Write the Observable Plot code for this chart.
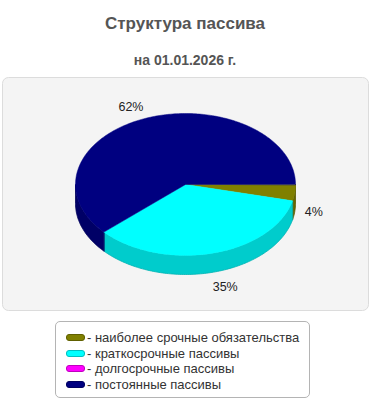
<!DOCTYPE html>
<html><head><meta charset="utf-8">
<script src="https://cdn.jsdelivr.net/npm/d3@7"></script>
<script src="https://cdn.jsdelivr.net/npm/@observablehq/plot@0.6"></script>
<style>
body{margin:0;background:#fff;font-family:"Liberation Sans",Arial,sans-serif;}
#root{position:relative;width:370px;height:400px;overflow:hidden;}
.title{position:absolute;left:0;width:370px;text-align:center;font-weight:bold;color:#555;line-height:1;white-space:nowrap;}
#chart{position:absolute;left:0;top:75px;}
#legend{position:absolute;left:55px;top:321px;width:253px;height:75px;border:1px solid #b4b4b4;border-radius:5px;background:#fff;}
.row{position:absolute;left:10px;height:15px;font-size:13px;color:#333;line-height:15px;white-space:nowrap;}
.sw{display:inline-block;box-sizing:border-box;width:19px;height:7px;border-radius:3px;vertical-align:middle;margin-right:2px;position:relative;top:-1px;}
</style></head>
<body>
<div id="root">
  <div class="title" style="top:15px;font-size:17px;">Структура пассива</div>
  <div class="title" style="top:52.5px;font-size:14px;">на 01.01.2026 г.</div>
  <div id="chart"></div>
  <div id="legend"></div>
</div>
<script>
const categories = ["наиболее срочные обязательства", "краткосрочные пассивы", "долгосрочные пассивы", "постоянные пассивы"];
const values = [3.7, 34.6, 0, 61.7];
const colors = ["#808000", "#00ffff", "#ff00ff", "#000080"];

// layout
const cx = 185, cy = 109, rx = 110, ry = 71, depth = 19;

const total = d3.sum(values);
let acc = 0;
const slices = categories.map((c, i) => {
  const a0 = acc / total * 2 * Math.PI;
  acc += values[i];
  const a1 = acc / total * 2 * Math.PI;
  return {c, v: values[i], color: colors[i], a0, a1, i};
}).filter(s => s.v > 0);

function darker(col, k) {
  const c = d3.rgb(col);
  return d3.rgb(c.r * k, c.g * k, c.b * k).formatHex();
}
function arcPts(a0, a1, off) {
  const n = Math.max(2, Math.ceil((a1 - a0) / (Math.PI / 180)));
  return d3.range(n + 1).map(k => {
    const a = a0 + (a1 - a0) * k / n;
    return [cx + rx * Math.cos(a), cy + ry * Math.sin(a) + off];
  });
}

const sideRows = [], topRows = [], labels = [];
slices.forEach(s => {
  const s0 = Math.max(s.a0, 0), s1 = Math.min(s.a1, Math.PI);
  if (s1 > s0) {
    const pts = arcPts(s0, s1, 0).concat(arcPts(s0, s1, depth).reverse());
    pts.forEach(p => sideRows.push({id: "side" + s.i, x: p[0], y: p[1], fill: darker(s.color, 0.8), stroke: darker(s.color, 0.7)}));
  }
  const tp = [[cx, cy]].concat(arcPts(s.a0, s.a1, 0));
  tp.forEach(p => topRows.push({id: "top" + s.i, x: p[0], y: p[1], fill: s.color}));
  const m = (s.a0 + s.a1) / 2;
  const c = Math.cos(m), sn = Math.sin(m);
  const px = cx + rx * c, py = cy + ry * sn + (sn > 0 ? depth : 0);
  const vx = c, vy = 0.3 * sn, L = Math.hypot(vx, vy);
  labels.push({x: px + 19 * vx / L, y: py + 19 * vy / L, text: Math.round(s.v / total * 100) + "%"});
});

const chart = Plot.plot({
  width: 370, height: 237, margin: 0,
  x: {domain: [0, 370], range: [0, 370], axis: null},
  y: {domain: [0, 237], range: [0, 237], axis: null},
  color: {type: "identity"},
  style: {background: "transparent", overflow: "visible"},
  marks: [
    Plot.frame({fill: "#f4f4f4", stroke: "#dcdcdc", rx: 6, inset: 2}),
    Plot.line(sideRows, {x: "x", y: "y", z: "id", fill: "fill", stroke: "stroke", strokeWidth: 0.8, curve: "linear-closed"}),
    Plot.line(topRows, {x: "x", y: "y", z: "id", fill: "fill", stroke: "fill", strokeWidth: 0.5, curve: "linear-closed"}),
    Plot.text(labels, {x: "x", y: "y", text: "text", fontSize: 12.5, fontFamily: "Liberation Sans, Arial, sans-serif", fill: "#222", textAnchor: "middle", lineAnchor: "middle"})
  ]
});
document.getElementById("chart").appendChild(chart);

const legend = document.getElementById("legend");
const rowTops = [8, 23.5, 39, 54.5];
categories.forEach((c, i) => {
  const row = document.createElement("div");
  row.className = "row";
  row.style.top = rowTops[i] + "px";
  const sw = document.createElement("span");
  sw.className = "sw";
  sw.style.background = colors[i];
  sw.style.border = "1px solid " + darker(colors[i], 0.75);
  row.appendChild(sw);
  row.appendChild(document.createTextNode("- " + c));
  legend.appendChild(row);
});
</script>
</body></html>
